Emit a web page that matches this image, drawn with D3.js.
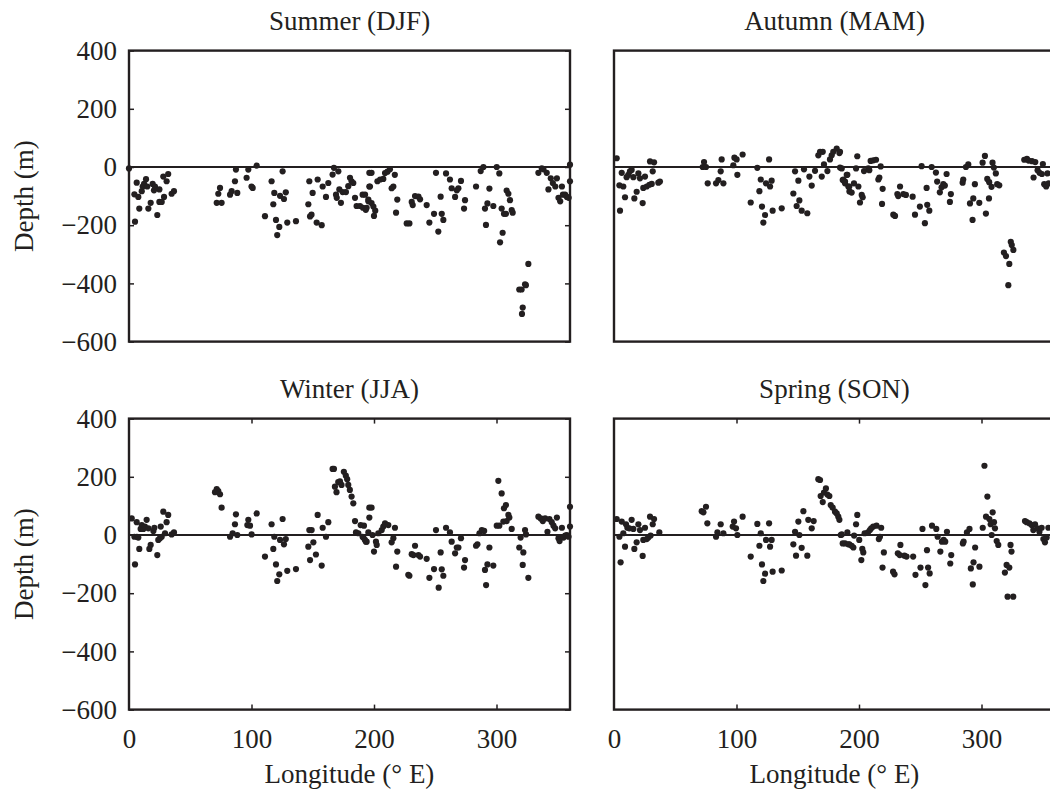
<!DOCTYPE html>
<html>
<head>
<meta charset="utf-8">
<script src="https://cdn.jsdelivr.net/npm/d3@7"></script>
<style>
  body { margin: 0; background: #fff; }
  svg text { font-family: "Liberation Serif", "Times New Roman", serif; fill: #231f20; }
  .frame { fill: none; stroke: #231f20; stroke-width: 2.4; }
  .zero { stroke: #231f20; stroke-width: 2; }
  .axis path { display: none; }
  .axis line { stroke: #231f20; stroke-width: 1.5; }
  .axis text { font-size: 27px; }
</style>
</head>
<body>
<svg id="chart" width="1050" height="792"></svg>
<script>
// seasonal depth anomalies, [longitude (deg E), depth (m)]
var summerPts = [
  [0,-5],[4.9,-188],[6.3,-54],[4.4,-94],[7.6,-103],[8.4,-143],[10.4,-83],[11.2,-67],[12.3,-58],[13.9,-42],
  [14.9,-67],[15.8,-143],[17.7,-123],[19.3,-58],[20.4,-80],[21.2,-67],[23.1,-165],[24.8,-77],[24.8,-120],[26.7,-120],
  [28.6,-103],[28,-33],[30.7,-49],[32,-24],[34.8,-92],[36.7,-83],
  [71.6,-123],[75.6,-123],[72.9,-92],[74.3,-72],[82.5,-95],[83.8,-83],[86.5,-49],[88.4,-89],[87.3,-9],[96,-37],
  [97.4,-9],[100,-67],[101,-72],[104.2,5],[111,-169],[116.4,-49],[117.8,-128],[118.6,-89],[120,-182],[121,-234],
  [122.7,-206],[123.3,-99],[125.4,-15],[126.5,-110],[128,-87],[129.2,-191],[136.3,-186],
  [146.4,-128],[147.8,-170],[149,-164],[147.2,-49],[149.9,-89],[153.2,-191],[154,-43],[157.3,-200],[158.1,-67],
  [160.8,-103],[162.7,-55],[166.2,-26],[167.3,-3],[170.9,-15],[169,-95],[169.6,-106],[171.7,-77],[173,-123],
  [174.4,-86],[177.1,-86],[179,-66],[180.4,-37],[181.7,-49],[183.1,-55],[184.5,-106],[185.8,-134],[188.6,-134],
  [190.7,-95],[192.7,-95],[194,-140],[195.4,-112],[196.2,-20],[196.2,-67],
  [191,-140],[193.3,-147],[195.4,-118],[198,-124],[199.5,-136],[201,-150],[200,-168],[198,-20],[196.7,-67],
  [202.8,-49],[205,-43],[207.6,-41],[209,-21],[211,-16],[213,-8],[214.4,-73],[215.8,-67],[217,-27],[219,-112],
  [218,-157],[226.7,-194],[228.9,-194],[230.8,-120],[231.6,-131],[233.5,-100],[236.3,-102],[237.6,-111],
  [243,-131],[245.2,-191],[249,-161],[250.6,-20],[252.5,-222],[254.4,-102],[255.3,-161],[256.6,-182],[258.8,-22],
  [262,-43],[263.4,-73],[266.2,-103],[267.6,-80],[268.9,-73],[271,-48],[273.5,-143],[274.3,-114],
  [283.3,-67],[287.1,-14],[289.3,0],[290.6,-143],[291.4,-199],[292.6,-125],[294.2,-74],[297.4,-134],[300.2,0],
  [302.3,-22],[302.9,-259],[304.2,-143],[305,-226],[306.1,-161],[307.7,-161],[308.3,-81],[309.7,-92],[311,-114],
  [312.4,-148],[313.2,-157],[318.6,-421],[320.5,-421],[321.4,-483],[320.8,-505],[323.3,-403],[324,-406],[326,-333],
  [334.2,-20],[337,-5],[338.3,-8],[341,-20],[342.4,-77],[344.3,-39],[346,-55],[348,-67],[349.3,-39],[350.6,-106],
  [352,-118],[353.4,-67],[354.2,-95],[356,-95],[357.5,-103],[358.9,-106],[360,8],[360,-49]
];

var autumnPts = [
  [2.2,30],[4.9,-150],[6.3,-20],[4.4,-63],[7.6,-67],[9,-104],[10.3,-35],[11.7,-27],[13,-15],[14.4,-10],
  [15.8,-35],[16.6,-108],[18.5,-85],[19.9,-22],[21.2,-39],[23.4,-124],[23.9,-72],[25.3,-33],[26.7,-67],[28.9,-61],
  [29.4,19],[30.8,-58],[31.6,-15],[32.7,16],[36.2,-54],[37.5,-50],
  [72.4,0],[73.5,17],[75.1,0],[76.5,-56],[83.3,-56],[85.2,-45],[87.9,26],[87.1,-15],[89.3,-56],[97.4,6],
  [98.3,32],[100.1,26],[100.7,-27],[105,43],[111.6,-122],[117,-3],[118.7,-83],[119.8,-43],[120.8,-136],[121.9,-191],
  [123.3,-165],[124.1,-56],[126.6,26],[127.4,-67],[128.7,-47],[129.5,-150],[136.9,-142],
  [146.4,-91],[147.8,-15],[149.1,-134],[150.5,-47],[151.3,-115],[153.2,-150],[155.1,-8],[157.8,-159],[159.5,-33],
  [161.4,-64],[164.1,-13],[166.8,40],[168.2,52],[170.4,52],[169.6,-33],[171.4,9],[174.2,-14],[176.3,26],[177.7,40],
  [179,52],[181.8,63],[184,48],[184.5,-2],[186.7,-45],[188.6,-56],[190,-27],[191.3,-67],[192.2,-84],
  [184.5,52],[185.9,-5],[187.2,-43],[188.6,-50],[190.5,-27],[192.1,-67],[194,-88],[195.9,-56],[197.6,-5],[198.6,37],
  [199.5,-67],[200.8,-122],[202.2,-96],[203,-104],[204.1,-14],[207.6,-5],[208.4,-11],[209.5,21],[211.7,23],
  [213.9,25],[215.8,-43],[216.6,-36],[217.7,2],[219.3,-75],[218.8,-127],[228,-164],[229.4,-168],[231.3,-93],
  [232,-100],[233.5,-67],[236.2,-93],[238.3,-96],[243.8,-102],[245.7,-164],[249.7,-136],[251.1,3],[253.8,-193],
  [255.2,-72],[255.7,-130],[257.4,-150],[259.3,0],[262.8,-19],[263.8,-50],[266,-87],[267.4,-70],[268.8,-59],
  [270.1,-64],[271.5,-24],[274.2,-120],[275,-93],[284.6,-54],[285.1,-43],[287.3,0],[289.2,9],[290.6,-125],
  [292.7,-182],[293.3,-108],[294.6,-59],[298.2,-123],[300.9,15],[302.8,38],[303.6,-160],[304.7,-41],[306.1,-108],
  [306.3,-52],[308.2,-68],[309,15],[310.1,-2],[311.7,-22],[312.8,-59],[314.5,-63],[318.3,-294],[320,-306],
  [322.7,-333],[321.9,-406],[323.9,-257],[324.7,-268],[326,-285],[334.9,25],[337.1,28],[338.4,22],[341.2,20],
  [342.5,-36],[343.9,17],[345.8,-11],[347.4,-20],[349.3,-24],[350.1,10],[351.2,-59],[352.8,-67],[353.9,-22],[354.8,-56]
];

var winterPts = [
  [2.2,57],[4.9,-101],[4.4,-6],[6.3,44],[6.5,-6],[7.6,-9],[8.4,-48],[9.5,21],[10.4,34],[11.7,21],
  [13,29],[14.4,52],[15.8,23],[16.6,-48],[17.7,-34],[19.9,14],[20.7,25],[23.1,-69],[23.9,-17],[25.3,-11],
  [25.9,29],[26.7,-6],[28,80],[29.4,6],[30.7,44],[32,69],[34.8,2],[36.7,9],
  [71.6,158],[72.9,151],[74.3,140],[70.2,147],[75.6,94],[82.5,-6],[84.6,6],[86.5,37],[87.3,71],[88.4,0],
  [96.6,34],[97.4,52],[98.8,32],[100.1,2],[104.2,74],[111,-74],[116.4,37],[117.8,-48],[118.6,-6],[120,-101],
  [121,-158],[122.7,-135],[123.3,-17],[125.4,55],[126.5,-32],[128,-14],[129.2,-123],[136.3,-117],
  [146.4,-40],[147.2,17],[147.8,-86],[149.1,17],[150.5,-25],[152.6,-67],[154,69],[157.3,-105],[158.1,25],
  [160.8,-6],[162.7,44],[166.2,227],[167.3,227],[168.1,166],[169.4,147],[170.8,182],[172.2,184],[173.5,172],
  [175.4,217],[177,204],[178.1,192],[179,172],[180.3,155],[181.7,132],[183.1,109],[184.5,48],[185.3,9],[187.2,6],
  [189.1,34],[190.7,-6],[191.8,32],[193.4,-23],[195.4,9],[196.2,60],[196.2,94],
  [191.3,-9],[192.6,-17],[194,-23],[198,94],[198.8,0],[200,-57],[201.6,-23],[202.2,-34],[203.5,6],[206.3,17],
  [207.6,29],[209,40],[211.7,34],[214.4,-25],[215.8,-11],[217.1,25],[218,-109],[219,-57],[228,-137],[228.9,-140],
  [230.8,-66],[232.2,-69],[233.5,-37],[236.3,-69],[237.6,-74],[243,-82],[245.2,-147],[249,-117],[250.6,17],
  [252.8,-181],[254.4,-60],[255.3,-118],[256.6,-140],[258.8,25],[262,9],[263.4,-23],[266.2,-63],[267.6,-43],
  [268.9,-43],[271,-11],[273.5,-112],[274.3,-86],[283.3,-37],[284.4,-32],[286.1,6],[288,17],[289.9,14],
  [291.5,-172],[290.6,-120],[292.6,-101],[294.2,-43],[297.4,-105],[300.2,32],[301.5,186],[302.3,32],[304.2,143],
  [305.6,46],[306.1,92],[307.7,103],[308.3,48],[309.7,69],[310.5,60],[312.4,21],[318.6,-43],[319.7,-9],
  [321.4,-103],[321.9,-60],[323.3,17],[324.1,2],[326,-147],[334.2,63],[336.1,57],[337.8,48],[339.7,57],
  [341.6,11],[343.2,55],[345.1,44],[346.5,32],[347.9,23],[349.3,60],[350.6,-11],[351.5,-21],[353.4,25],
  [354.7,-9],[356.1,-2],[357.4,0],[358.8,-6],[360,97],[360,29]
];

var springPts = [
  [2.2,55],[4.4,-6],[5.4,-94],[6.3,46],[7.6,6],[9,-40],[9.8,37],[10.9,25],[12.5,23],[14.4,52],
  [15.8,21],[16.6,-48],[18.5,-25],[19.9,37],[21.2,17],[23.4,-72],[23.9,-17],[25.3,25],[26.7,-14],[28,-9],
  [29.4,63],[29.9,-2],[31.6,37],[32.7,55],[37,9],
  [71.6,82],[73,78],[75.1,97],[76.2,40],[83.3,-6],[84.4,9],[87.1,37],[89.3,6],[96.9,29],[98,46],
  [99.6,23],[100.7,0],[105,63],[111.6,-74],[117,38],[118.7,-37],[119.8,6],[120.8,-101],[121.9,-158],[123.3,-133],
  [124.1,-17],[126.6,40],[127.4,-40],[128.7,-17],[129.5,-126],[136.9,-122],
  [146.4,-32],[147.8,11],[148.6,-71],[150.5,46],[151.3,0],[153.2,-44],[154.6,82],[157.8,-71],[158.6,52],
  [161.4,23],[163,48],[166.8,192],[168.2,189],[168.7,134],[170.4,113],[171.4,146],[173,160],[174.2,139],
  [175.8,134],[176.9,103],[178.5,94],[180.4,80],[181.8,74],[183.1,63],[184,52],[185.1,0],[186.7,-29],
  [188.6,-29],[190.5,9],[191.3,-32],
  [185.9,2],[192.1,-32],[194,-37],[195.4,-43],[196,-2],[197.6,37],[198.6,69],[200.2,-17],[201.9,-86],[202.7,-48],
  [203.5,-60],[204.6,6],[207.3,9],[208.9,17],[210,23],[211.6,29],[214.3,32],[216.2,-14],[217.1,-6],[218.1,25],
  [220.3,-60],[219.2,-112],[227.8,-126],[229,-135],[231.7,-63],[233.3,-69],[233.8,-34],[237.1,-71],[238.8,-74],
  [244.2,-74],[246.1,-137],[250.2,-112],[251.8,21],[254.2,-172],[255.5,-52],[256.4,-112],[257.7,-132],[259.6,32],
  [263.1,21],[264.2,-6],[266.4,-57],[267.7,-23],[269.1,-17],[270.4,-23],[271.8,11],[274.5,-98],[275.3,-69],
  [284.8,-29],[285.4,-23],[288.1,9],[290.2,21],[291.3,-115],[292.9,-170],[293.5,-94],[294.8,-43],[298.3,-109],
  [301,25],[302.4,238],[303.7,63],[304.8,132],[306.4,55],[307.5,37],[308.3,0],[309.1,78],[310.2,44],[311,23],
  [312.4,-21],[313.7,-34],[319.1,-129],[320.5,-103],[321.3,-212],[322.7,-112],[323.7,-34],[324.5,-57],[325.9,-212],
  [335.5,48],[336.9,44],[339.1,40],[341,34],[342.3,17],[343.7,37],[345.6,23],[347.3,11],[349.1,25],[350.5,-14],
  [351.8,-25],[353.2,-9],[354.6,25]
];

var panelTitles = ['Summer (DJF)', 'Autumn (MAM)', 'Winter (JJA)', 'Spring (SON)'];
var xTicks = [0, 100, 200, 300];
var yTicks = [400, 200, 0, -200, -400, -600];

var svg = d3.select('#chart');
var ink = '#231f20';

var colLeft = [129, 614], panelW = 441;
var rowTop = [50.6, 418.6], panelH = 291;

var x = d3.scaleLinear().domain([0, 360]).range([0, panelW]);
var y = d3.scaleLinear().domain([-600, 400]).range([panelH, 0]);

var panels = [
  {pts: summerPts, col: 0, row: 0},
  {pts: autumnPts, col: 1, row: 0},
  {pts: winterPts, col: 0, row: 1},
  {pts: springPts, col: 1, row: 1}
];

var fmt = function(d) { return d < 0 ? '\u2212' + Math.abs(d) : d; };

panels.forEach(function(p, i) {
  var g = svg.append('g')
             .attr('transform', 'translate(' + colLeft[p.col] + ',' + rowTop[p.row] + ')');

  // title
  g.append('text')
   .attr('x', panelW / 2).attr('y', -21)
   .attr('text-anchor', 'middle')
   .style('font-size', '27px')
   .text(panelTitles[i]);

  // y ticks, inward on both sides; labels only on the left column
  var yl = d3.axisLeft(y).tickValues(yTicks).tickSize(-5).tickPadding(12).tickFormat(fmt);
  var yr = d3.axisRight(y).tickValues(yTicks).tickSize(-5).tickFormat('');
  if (p.col === 0) {
    g.append('g').attr('class', 'axis').call(yl);
    g.append('g').attr('class', 'axis')
     .attr('transform', 'translate(' + panelW + ',0)').call(yr);
    g.append('text')
     .attr('transform', 'translate(-96,' + (panelH / 2) + ') rotate(-90)')
     .attr('text-anchor', 'middle')
     .style('font-size', '27px')
     .text('Depth (m)');
  }

  // x ticks only on the bottom row
  if (p.row === 1) {
    var xb = d3.axisBottom(x).tickValues(xTicks).tickSize(-5).tickPadding(19);
    var xt = d3.axisTop(x).tickValues(xTicks).tickSize(-5).tickFormat('');
    g.append('g').attr('class', 'axis')
     .attr('transform', 'translate(0,' + panelH + ')').call(xb);
    g.append('g').attr('class', 'axis').call(xt);
    g.selectAll('.axis line').filter(function(d) { return d === 0; }).remove();
    g.append('text')
     .attr('x', panelW / 2).attr('y', panelH + 73)
     .attr('text-anchor', 'middle')
     .style('font-size', '27px')
     .text('Longitude (\u00b0 E)');
  }

  // zero line
  g.append('line').attr('class', 'zero')
   .attr('x1', 0).attr('x2', panelW)
   .attr('y1', y(0)).attr('y2', y(0));

  g.selectAll('circle')
   .data(p.pts)
   .enter()
   .append('circle')
   .attr('cx', function(d) { return x(d[0]); })
   .attr('cy', function(d) { return y(d[1]); })
   .attr('r', 3.1)
   .attr('fill', ink);

  g.append('rect').attr('class', 'frame')
   .attr('x', 0).attr('y', 0)
   .attr('width', panelW).attr('height', panelH);
});
</script>
</body>
</html>
